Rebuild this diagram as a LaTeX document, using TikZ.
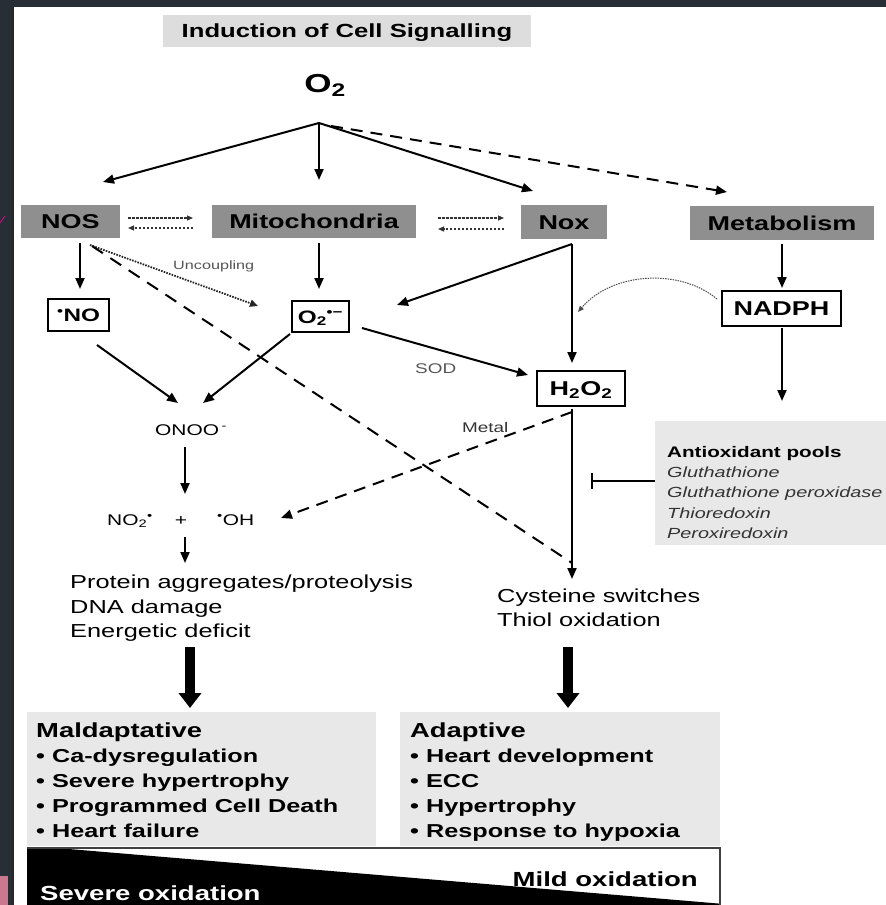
\documentclass[tikz,border=0pt]{standalone}
\usepackage{fontspec}
\setmainfont{Liberation Sans}[FakeStretch=1.35]
\usetikzlibrary{arrows.meta}
\definecolor{darkbg}{HTML}{272E36}
\definecolor{boxgray}{HTML}{8F8F8F}
\definecolor{lgray}{HTML}{E8E8E8}
\definecolor{tgray}{HTML}{DDDDDD}
\definecolor{lblgray}{HTML}{555555}
\definecolor{itgray}{HTML}{333333}
\definecolor{pinkmark}{HTML}{C9788F}
\newcommand{\myfs}[1]{\fontsize{#1}{#1}\selectfont}
\begin{document}
\begin{tikzpicture}[x=1pt,y=-1pt,
  gbox/.style={fill=boxgray, inner sep=0pt, text height=14.3pt, text depth=0pt, font=\bfseries\myfs{20}},
  wbox/.style={draw=black, line width=2pt, fill=white, inner sep=0pt, text height=13pt, text depth=0pt, font=\bfseries\myfs{18}},
  lt/.style={inner sep=0pt, anchor=base west},
  arr/.style={line width=2pt, -{Triangle[length=11pt,width=9pt]}},
  dsh/.style={dash pattern=on 12pt off 8pt},
  dbl/.style={line width=1.2pt, draw=black!80, dash pattern=on 2.5pt off 1.5pt, -{Triangle[length=6pt,width=5pt]}},
  thick arr/.style={line width=10pt, -{Triangle[length=15pt,width=22pt]}},
  lgbox/.style={fill=lgray, inner sep=0pt}
]
\useasboundingbox (0,0) rectangle (886,905);
% frame
\fill[darkbg] (0,0) rectangle (886,905);
\fill[white] (14,7) rectangle (886,905);
\draw[line width=2pt, black!85] (13,7) -- (13,905);
\fill[pinkmark] (0,876) rectangle (8,905);
\draw[magenta, line width=0.8pt] (0,223) -- (5,216);

% title and O2
\node[fill=tgray, minimum width=368pt, minimum height=32pt, inner sep=0pt, text height=13.6pt, text depth=0pt, font=\bfseries\myfs{19}] (title) at (347,31) {Induction of Cell Signalling};
\node[inner sep=0pt, anchor=base, font=\bfseries\myfs{26}] (o2) at (325,92) {O\textsubscript{2}};
\coordinate (br) at (319,123);

% grey boxes
\node[gbox, minimum width=99pt, minimum height=33pt] (nos) at (70.5,221.5) {NOS};
\node[gbox, minimum width=204pt, minimum height=33pt] (mito) at (314,221.5) {Mitochondria};
\node[gbox, minimum width=86pt, minimum height=34pt] (nox) at (564,222) {Nox};
\node[gbox, minimum width=184pt, minimum height=34pt] (metab) at (782,223) {Metabolism};

% white boxes
\node[wbox, minimum width=61pt, minimum height=32pt] (no) at (78.5,315) {\textsuperscript{•}NO};
\node[wbox, minimum width=57pt, minimum height=31pt] (superox) at (320.5,316.5) {O\textsubscript{2}\textsuperscript{•−}};
\node[wbox, minimum width=88pt, minimum height=35pt, font=\bfseries\myfs{20}, text height=14.3pt] (h2o2) at (581,388.5) {H\textsubscript{2}O\textsubscript{2}};
\node[wbox, minimum width=119pt, minimum height=35pt, font=\bfseries\myfs{20}, text height=14.3pt] (nadph) at (781.5,308.5) {NADPH};

% small labels and species
\node[lt, font=\myfs{12}, text=lblgray] (unc) at (173,269) {Uncoupling};
\node[lt, font=\myfs{14}, text=lblgray] (sod) at (415,373) {SOD};
\node[lt, font=\myfs{14}, text=itgray] (metal) at (462,432) {Metal};
\node[lt, font=\myfs{15.5}] (onoo) at (155,435) {ONOO\,\textsuperscript{-}};
\node[lt, font=\myfs{15.5}] (no2) at (107,525) {NO\textsubscript{2}\textsuperscript{•}};
\node[inner sep=0pt, anchor=base, font=\myfs{15.5}] (plus) at (181,525) {+};
\node[lt, font=\myfs{15.5}] (oh) at (217,525) {\textsuperscript{•}OH};

% outcome texts
\node[lt, font=\myfs{18.8}] (p1) at (70,588) {Protein aggregates/proteolysis};
\node[lt, font=\myfs{18.8}] (p2) at (70,613) {DNA damage};
\node[lt, font=\myfs{18.8}] (p3) at (70,637) {Energetic deficit};
\node[lt, font=\myfs{18.8}] (c1) at (497,602) {Cysteine switches};
\node[lt, font=\myfs{18.8}] (c2) at (497,626) {Thiol oxidation};

% antioxidant pools
\node[lgbox, minimum width=240pt, minimum height=124pt] (aobox) at (775,483) {};
\node[lt, font=\bfseries\myfs{15.3}] (ao0) at (667,457) {Antioxidant pools};
\node[lt, font=\itshape\myfs{14.7}, text=itgray] (ao1) at (667,477) {Gluthathione};
\node[lt, font=\itshape\myfs{14.7}, text=itgray] (ao2) at (667,497) {Gluthathione peroxidase};
\node[lt, font=\itshape\myfs{14.7}, text=itgray] (ao3) at (667,518) {Thioredoxin};
\node[lt, font=\itshape\myfs{14.7}, text=itgray] (ao4) at (667,538) {Peroxiredoxin};

% maldaptative / adaptive
\node[lgbox, minimum width=349pt, minimum height=134pt] (malbox) at (201.5,779) {};
\node[lgbox, minimum width=320pt, minimum height=134pt] (adbox) at (560,779) {};
\node[lt, font=\bfseries\myfs{20.3}] (m0) at (36,737) {Maldaptative};
\node[lt, font=\bfseries\myfs{18.7}] (m1) at (36,762) {• Ca-dysregulation};
\node[lt, font=\bfseries\myfs{18.7}] (m2) at (36,787) {• Severe hypertrophy};
\node[lt, font=\bfseries\myfs{18.7}] (m3) at (36,812) {• Programmed Cell Death};
\node[lt, font=\bfseries\myfs{18.7}] (m4) at (36,837) {• Heart failure};
\node[lt, font=\bfseries\myfs{20.3}] (a0) at (410,737) {Adaptive};
\node[lt, font=\bfseries\myfs{18.7}] (a1) at (410,762) {• Heart development};
\node[lt, font=\bfseries\myfs{18.7}] (a2) at (410,787) {• ECC};
\node[lt, font=\bfseries\myfs{18.7}] (a3) at (410,812) {• Hypertrophy};
\node[lt, font=\bfseries\myfs{18.7}] (a4) at (410,837) {• Response to hypoxia};

% oxidation scale
\node[fill=white, inner sep=0pt, minimum width=693pt, minimum height=62pt] (scalebox) at (373.5,879) {};
\begin{scope}
  \clip (27,848) rectangle (720,910);
  \fill[black] (27,847) -- (45,847) -- (760,907) -- (27,907) -- cycle;
\end{scope}
\draw[black!75, line width=2pt] (27,848) -- (720,848) -- (720,910);
\node[lt, font=\bfseries\myfs{20.4}, text=white] (severe) at (40,900) {Severe oxidation};
\node[inner sep=0pt, anchor=base east, font=\bfseries\myfs{20.4}] (mild) at (698,886) {Mild oxidation};

% coordinates for connector ends
\coordinate (nosin) at (103,182);
\coordinate (mitoin) at (319,180);
\coordinate (noxin) at (533,191);
\coordinate (metin) at (727,192);
\coordinate (dstart) at (331,126);
\coordinate (nm1) at (128,218); \coordinate (nm2) at (193,218);
\coordinate (nm3) at (193,228); \coordinate (nm4) at (128,228);
\coordinate (mx1) at (438,218); \coordinate (mx2) at (504,218);
\coordinate (mx3) at (504,229); \coordinate (mx4) at (438,229);
\coordinate (nosb) at (80,243); \coordinate (noin) at (80,289);
\coordinate (nosd) at (90,245); \coordinate (supin) at (258,306);
\coordinate (nosl) at (92,246);
\coordinate (mitob) at (319,243); \coordinate (supt) at (319,289);
\coordinate (noxb) at (572,244); \coordinate (supr) at (397,305);
\coordinate (h2in) at (572,363);
\coordinate (supo) at (362,328); \coordinate (h2l) at (528,375);
\coordinate (nadl) at (717,299); \coordinate (curvend) at (578,312);
\coordinate (metb) at (782,244); \coordinate (nadin) at (782,288);
\coordinate (nadb) at (782,328); \coordinate (aoin) at (782,401);
\coordinate (nob) at (97,345); \coordinate (onin1) at (178,403);
\coordinate (supb) at (290,334); \coordinate (onin2) at (203,403);
\coordinate (onb) at (185,447); \coordinate (radin) at (185,494);
\coordinate (h2bl) at (572,412); \coordinate (ohin) at (281,518);
\coordinate (plb) at (185,537); \coordinate (pin) at (185,563);
\coordinate (h2b) at (572,409); \coordinate (cin) at (572,579);
\coordinate (dend) at (572,563);
\coordinate (inhs) at (655,481); \coordinate (inhe) at (591,481);
\coordinate (ta1) at (190,647); \coordinate (ta2) at (190,708);
\coordinate (tb1) at (568,647); \coordinate (tb2) at (568,708);

% connectors
\draw[arr] (br) -- (nosin);
\draw[arr] (br) -- (mitoin);
\draw[arr] (br) -- (noxin);
\draw[arr, dsh] (dstart) -- (metin);
\draw[dbl] (nm1) -- (nm2);
\draw[dbl] (nm3) -- (nm4);
\draw[dbl] (mx1) -- (mx2);
\draw[dbl] (mx3) -- (mx4);
\draw[arr] (nosb) -- (noin);
\draw[line width=1.8pt, black!85, dash pattern=on 1.6pt off 1.2pt, -{Triangle[length=8pt,width=7pt]}] (nosd) -- (supin);
\draw[line width=2pt, dash pattern=on 13pt off 9pt] (nosl) -- (dend);
\draw[arr] (mitob) -- (supt);
\draw[arr] (noxb) -- (supr);
\draw[arr] (noxb) -- (h2in);
\draw[arr] (supo) -- (h2l);
\draw[line width=1pt, black!70, dash pattern=on 1.5pt off 1pt, -{Triangle[length=6pt,width=5pt]}] (nadl) .. controls (680,268) and (612,272) .. (curvend);
\draw[arr] (metb) -- (nadin);
\draw[arr] (nadb) -- (aoin);
\draw[arr] (nob) -- (onin1);
\draw[arr] (supb) -- (onin2);
\draw[arr] (onb) -- (radin);
\draw[arr, dsh] (h2bl) -- (ohin);
\draw[arr] (plb) -- (pin);
\draw[arr] (h2b) -- (cin);
\draw[line width=1.5pt, -{Bar[width=16pt]}] (inhs) -- (inhe);
\draw[thick arr] (ta1) -- (ta2);
\draw[thick arr] (tb1) -- (tb2);
\end{tikzpicture}
\end{document}
